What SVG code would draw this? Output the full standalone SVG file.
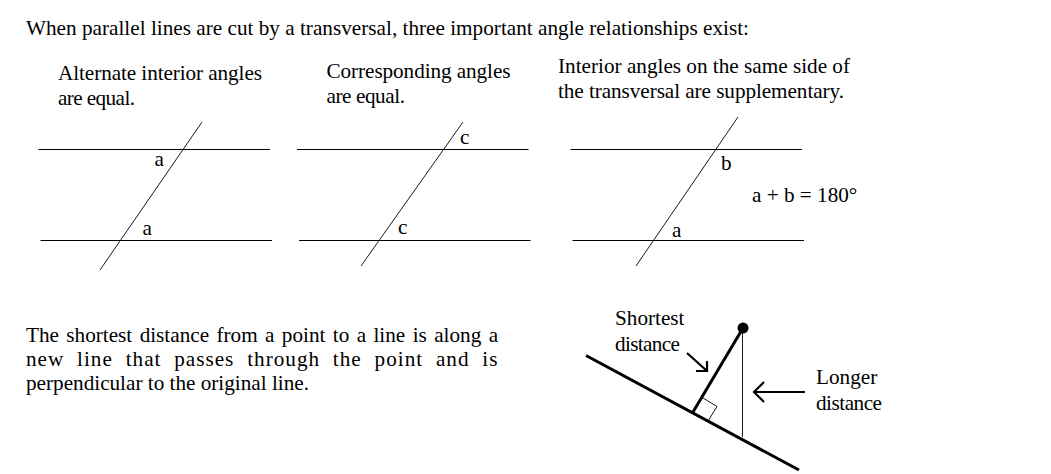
<svg xmlns="http://www.w3.org/2000/svg" width="1051" height="474" viewBox="0 0 1051 474">
<style>
text{font-family:"Liberation Serif","Times New Roman",serif;font-size:21.2px;fill:#000}
.h,.t,.b,.r{fill:none;stroke:#000}
.h{stroke-width:1.1}
.t{stroke-width:.9}
.b{stroke-width:3}
.r{stroke-width:2.2}
</style>
<rect width="1051" height="474" fill="#fff"/>
<g id="text-intro"><text x="26" y="35" textLength="723">When parallel lines are cut by a transversal, three important angle relationships exist:</text></g>
<g id="alternate">
<text x="58" y="79.500" textLength="204">Alternate interior angles</text><text x="58" y="105" textLength="77">are equal.</text>
<path class="h" d="M38.500 149.500H270M40.500 240.500H272"/><path class="t" d="M202 122L100 270"/>
<text x="154.500" y="166">a</text><text x="142.500" y="235">a</text>
</g>
<g id="corresponding">
<text x="326.500" y="77.500" textLength="184">Corresponding angles</text><text x="326.500" y="103" textLength="78.500">are equal.</text>
<path class="h" d="M297 149.500H528.500M299 240.500H530.500"/><path class="t" d="M463 122L361 266"/>
<text x="460" y="144">c</text><text x="398" y="234">c</text>
</g>
<g id="interior">
<text x="558" y="72.500" textLength="292">Interior angles on the same side of</text><text x="558" y="98" textLength="286">the transversal are supplementary.</text>
<path class="h" d="M570.500 149.500H802M572.500 240.500H804"/><path class="t" d="M738 117L636 266"/>
<text x="721" y="170">b</text><text x="672" y="237">a</text>
<text x="752" y="202">a + b = 180°</text>
</g>
<g id="text-shortest">
<text x="26" y="342" word-spacing="2.100">The shortest distance from a point to a line is along a</text>
<text x="26" y="366" letter-spacing="1" word-spacing="6.500">new line that passes through the point and is</text>
<text x="26" y="390">perpendicular to the original line.</text>
</g>
<g id="perpendicular">
<path class="b" d="M586 355.500L799 470M693 412L743 328"/>
<circle cx="743" cy="328" r="5.500"/>
<path class="t" d="M742.500 328V437M703 398L717 406.500L708 421"/>
<path class="r" d="M687 353L707 371M696 371L707 371L707 361M805 392H754M764 382L754 392L764 402"/>
<text x="615" y="325">Shortest</text><text x="615" y="351" textLength="65">distance</text>
<text x="816" y="384">Longer</text><text x="816" y="410" textLength="66">distance</text>
</g>
</svg>
